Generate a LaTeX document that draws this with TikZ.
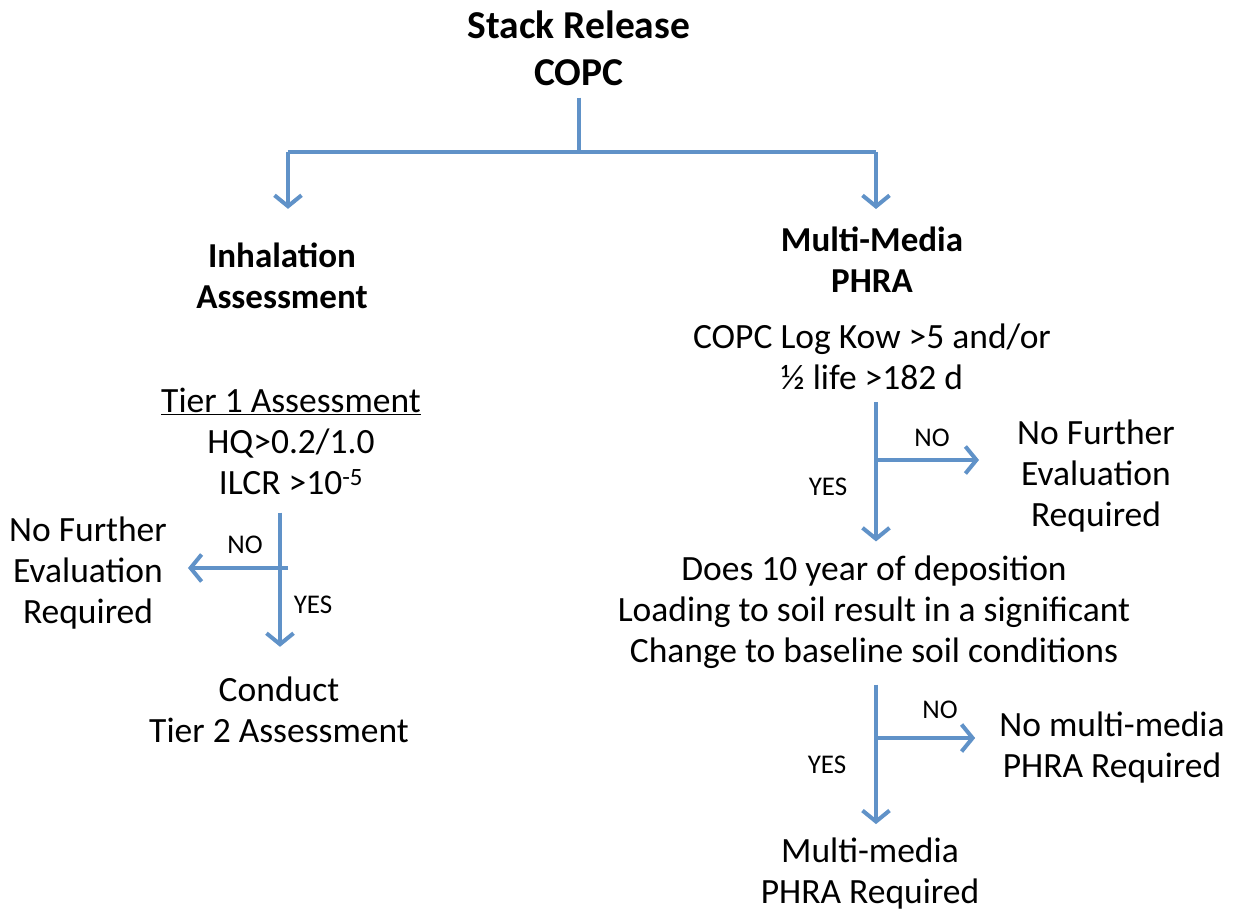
\documentclass[tikz,border=0pt]{standalone}
\usepackage{fontspec}
\setmainfont{Carlito}
\usepackage{xcolor}
\usetikzlibrary{arrows.meta}
\definecolor{flowblue}{RGB}{96,146,200}

\begin{document}
\begin{tikzpicture}[x=1pt,y=-1pt,
  every node/.style={align=center,inner sep=0pt,font=\fontsize{35.5}{41}\selectfont},
  plain/.style={draw=flowblue,line width=4pt},
  flow/.style={plain,-{Straight Barb[length=11pt,width=27pt,line width=4pt]}}]

    \tikzstyle{titletext} = [font=\fontsize{39.5}{47}\selectfont\bfseries]
    \tikzstyle{heading} = [font=\fontsize{35}{41}\selectfont\bfseries]
    \tikzstyle{answer} = [font=\fontsize{27}{30}\selectfont]

  \useasboundingbox (0,0) rectangle (1235,912);

  \node[titletext] (title) at (579,48) {Stack Release\\COPC};
  \node[heading] (inh) at (282,276) {Inhalation\\Assessment};
  \node[heading] (mm) at (872,260) {Multi-Media\\PHRA};

  \node (tier1) at (291,441) {\underline{Tier 1 Assessment}\\HQ>0.2/1.0\\ILCR >10\textsuperscript{-5}};
  \node (nofL) at (88,573) {No Further\\Evaluation\\Required};
  \node (cond) at (279,710) {Conduct\\Tier 2 Assessment};

  \node (kow) at (872,357) {COPC Log Kow >5 and/or\\½ life >182 d};
  \node (nofR) at (1096,476) {No Further\\Evaluation\\Required};
  \node (does) at (874,612) {Does 10 year of deposition\\Loading to soil result in a significant\\Change to baseline soil conditions};
  \node (nomm) at (1112,748) {No multi-media\\PHRA Required};
  \node (mmreq) at (870,874) {Multi-media\\PHRA Required};

  \node[answer] (noL) at (245,545) {NO};
  \node[answer] (yesL) at (313,605) {YES};
  \node[answer] (noR1) at (932,438) {NO};
  \node[answer] (yesR1) at (828,487) {YES};
  \node[answer] (noR2) at (940,710) {NO};
  \node[answer] (yesR2) at (827,765) {YES};

  \coordinate (fork) at (579,152);
  \coordinate (forkL) at (288,152);
  \coordinate (forkR) at (876,152);
  \coordinate (splitL) at (280,568);
  \coordinate (splitR1) at (876,460);
  \coordinate (splitR2) at (876,738);

  \draw[plain,shorten <=12pt] (title.south) -- (fork);
  \draw[plain] (forkL) -- (forkR);
  \draw[flow,shorten >=34pt] (forkL) -- (forkL |- inh.north);
  \draw[flow,shorten >=18pt] (forkR) -- (forkR |- mm.north);

  \draw[plain,shorten <=18pt] (tier1.south -| splitL) -- (splitL);
  \draw[flow,shorten >=30pt] (splitL) -- (splitL |- cond.north);
  \draw[flow,shorten <=-8pt,shorten >=21pt] (splitL) -- (splitL -| nofL.east);

  \draw[plain,shorten <=12pt] (kow.south -| splitR1) -- (splitR1);
  \draw[flow,shorten >=14pt] (splitR1) -- (splitR1 |- does.north);
  \draw[flow,shorten >=38pt] (splitR1) -- (splitR1 -| nofR.west);

  \draw[plain,shorten <=16pt] (does.south -| splitR2) -- (splitR2);
  \draw[flow,shorten >=14pt] (splitR2) -- (splitR2 |- mmreq.north);
  \draw[flow,shorten >=24pt] (splitR2) -- (splitR2 -| nomm.west);

\end{tikzpicture}
\end{document}
